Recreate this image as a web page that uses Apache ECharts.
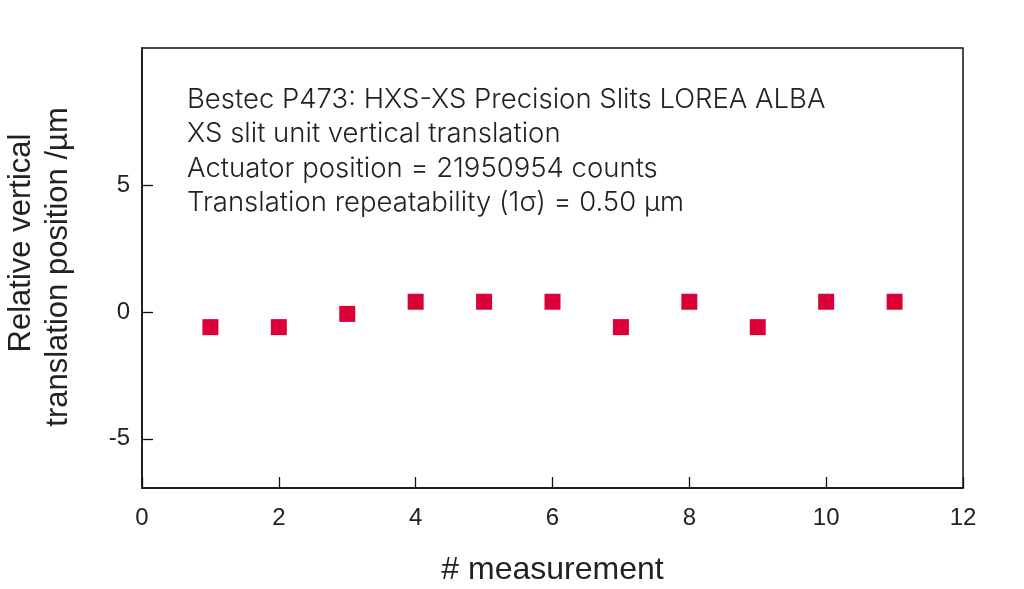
<!DOCTYPE html>
<html><head><meta charset="utf-8">
<script src="https://cdn.jsdelivr.net/npm/echarts@6/dist/echarts.min.js"></script>
<style>html,body{margin:0;padding:0;background:#fff}#c{width:1024px;height:589px}</style>
</head><body><div id="c"></div>
<script>
const measurements = [1,2,3,4,5,6,7,8,9,10,11];
const positions = [-0.6,-0.6,-0.08,0.4,0.4,0.4,-0.6,0.4,-0.6,0.4,0.4];
const xTicks = [0,2,4,6,8,10,12];
const yTicks = [-5,0,5];
const annotation = [
  'Bestec P473: HXS-XS Precision Slits LOREA ALBA',
  'XS slit unit vertical translation',
  'Actuator position = 21950954 counts',
  'Translation repeatability (1\u03C3) = 0.50 \u00B5m'
];
const xTitle = '# measurement';
const yTitleLines = ['Relative vertical', 'translation position /\u00B5m'];

const font = 'Liberation Sans';
const chart = echarts.init(document.getElementById('c'));
chart.setOption({
  animation:false,
  backgroundColor:'#fff',
  grid:{left:142,right:61,top:48,bottom:101,containLabel:false,outerBoundsMode:'none',show:true,borderColor:'#111',borderWidth:1.5,backgroundColor:'transparent'},
  xAxis:{type:'value',min:0,max:12,interval:2,
    axisLine:{show:true,onZero:false,lineStyle:{color:'#111',width:1.5}},
    axisTick:{show:true,inside:true,length:11,lineStyle:{color:'#111',width:1.3}},
    axisLabel:{color:'#222',fontSize:24,fontFamily:font,margin:18},
    splitLine:{show:false},
    name:xTitle,nameLocation:'middle',nameGap:66,
    nameTextStyle:{color:'#222',fontSize:32,fontFamily:font}},
  yAxis:{type:'value',min:-6.94,max:10.4,
    axisLine:{show:true,onZero:false,lineStyle:{color:'#111',width:1.5}},
    axisTick:{show:true,inside:true,length:11,customValues:yTicks,lineStyle:{color:'#111',width:1.3}},
    axisLabel:{color:'#222',fontSize:24,fontFamily:font,margin:12,customValues:yTicks},
    splitLine:{show:false}},
  graphic:[
    {type:'text',left:187,top:82,style:{text:annotation.join('\n'),fill:'#222',fontSize:27.5,fontFamily:'Inter',fontWeight:300,lineHeight:34.5}},
    {type:'text',x:21,y:243,rotation:Math.PI/2,style:{text:yTitleLines[0],fill:'#222',fontSize:31,fontFamily:font,align:'center',verticalAlign:'middle'}},
    {type:'text',x:58,y:267,rotation:Math.PI/2,style:{text:yTitleLines[1],fill:'#222',fontSize:31,fontFamily:font,align:'center',verticalAlign:'middle'}}
  ],
  series:[{type:'scatter',symbol:'rect',symbolSize:16,
    itemStyle:{color:'#dc0039',opacity:1},
    data:measurements.map((m,i)=>[m,positions[i]])}]
});
</script></body></html>
